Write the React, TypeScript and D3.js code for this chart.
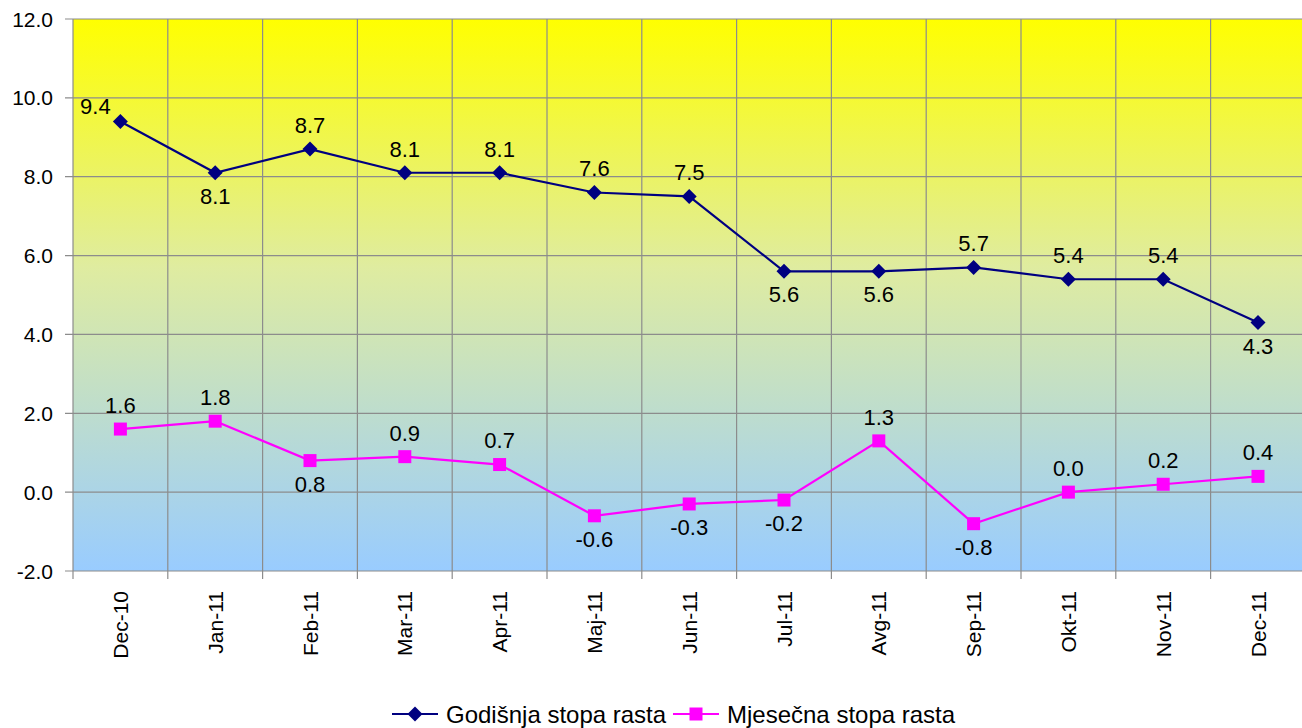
import * as d3 from "d3";
import { useEffect, useRef } from "react";

const categories = ["Dec-10", "Jan-11", "Feb-11", "Mar-11", "Apr-11", "Maj-11", "Jun-11", "Jul-11", "Avg-11", "Sep-11", "Okt-11", "Nov-11", "Dec-11"];
const annualRate = [9.4, 8.1, 8.7, 8.1, 8.1, 7.6, 7.5, 5.6, 5.6, 5.7, 5.4, 5.4, 4.3];
const monthlyRate = [1.6, 1.8, 0.8, 0.9, 0.7, -0.6, -0.3, -0.2, 1.3, -0.8, 0.0, 0.2, 0.4];
const annualLabelSide = ["left", "below", "above", "above", "above", "above", "above", "below", "below", "above", "above", "above", "below"];
const monthlyLabelSide = ["above", "above", "below", "above", "above", "below", "below", "below", "above", "below", "above", "above", "above"];
const yTicks = [-2, 0, 2, 4, 6, 8, 10, 12];
const seriesNames = ["Godišnja stopa rasta", "Mjesečna stopa rasta"];

const W = 1302;
const H = 728;
const FONT = "'Liberation Sans', Arial, sans-serif";

// diamond = square rotated 45deg, half-diagonal r
const diamond = (r: number) => `M0,${-r}L${r},0L0,${r}L${-r},0Z`;
const square = (h: number) => `M${-h},${-h}H${h}V${h}H${-h}Z`;

export default function App() {
	const ref = useRef<SVGSVGElement | null>(null);

	useEffect(() => {
		if (!ref.current) return;
		const svg = d3.select(ref.current);
		svg.selectAll("*").remove();

		const left = 73;
		const top = 19;
		const bottom = 571;
		const right = left + 13 * 94.8;

		const x = d3.scaleBand<string>().domain(categories).range([left, right]);
		const y = d3.scaleLinear().domain([-2, 12]).range([bottom, top]);
		const cx = (c: string) => (x(c) ?? 0) + x.bandwidth() / 2;
		const fmt = (v: number) => v.toFixed(1);

		const grad = svg
			.append("defs")
			.append("linearGradient")
			.attr("id", "bg")
			.attr("x1", 0)
			.attr("y1", 0)
			.attr("x2", 0)
			.attr("y2", 1);
		grad.append("stop").attr("offset", "0%").attr("stop-color", "#ffff00");
		grad.append("stop").attr("offset", "45%").attr("stop-color", "#dfeca0");
		grad.append("stop").attr("offset", "100%").attr("stop-color", "#99ccff");

		svg
			.append("rect")
			.attr("x", left)
			.attr("y", top)
			.attr("width", right - left)
			.attr("height", bottom - top)
			.attr("fill", "url(#bg)");

		const grid = svg.append("g").attr("stroke", "#8c8c8c").attr("stroke-width", 1.2);
		grid
			.selectAll("line.h")
			.data(yTicks)
			.join("line")
			.attr("class", "h")
			.attr("x1", left - 8)
			.attr("x2", right)
			.attr("y1", (d) => y(d))
			.attr("y2", (d) => y(d));
		grid
			.selectAll("line.v")
			.data(categories)
			.join("line")
			.attr("class", "v")
			.attr("x1", (d) => x(d) ?? 0)
			.attr("x2", (d) => x(d) ?? 0)
			.attr("y1", top)
			.attr("y2", bottom + 8);

		svg
			.append("g")
			.selectAll("text")
			.data(yTicks)
			.join("text")
			.attr("x", 53)
			.attr("y", (d) => y(d))
			.attr("dy", "0.36em")
			.attr("text-anchor", "end")
			.attr("font-family", FONT)
			.attr("font-size", 21)
			.text(fmt);

		svg
			.append("g")
			.selectAll("text")
			.data(categories)
			.join("text")
			.attr("transform", (d) => `translate(${cx(d)},591) rotate(-90)`)
			.attr("dy", "0.36em")
			.attr("text-anchor", "end")
			.attr("font-family", FONT)
			.attr("font-size", 21)
			.text((d) => d);

		const line = d3
			.line<number>()
			.x((_, i) => cx(categories[i]))
			.y((d) => y(d));

		const series = [
			{ values: annualRate, sides: annualLabelSide, color: "#000080", marker: diamond(7.5) },
			{ values: monthlyRate, sides: monthlyLabelSide, color: "#ff00ff", marker: square(6.5) },
		];

		series.forEach((s) => {
			svg
				.append("path")
				.attr("d", line(s.values))
				.attr("fill", "none")
				.attr("stroke", s.color)
				.attr("stroke-width", 2.2);
			svg
				.append("g")
				.selectAll("path")
				.data(s.values)
				.join("path")
				.attr("transform", (d, i) => `translate(${cx(categories[i])},${y(d)})`)
				.attr("d", s.marker)
				.attr("fill", s.color);
			svg
				.append("g")
				.selectAll("text")
				.data(s.values)
				.join("text")
				.attr("x", (d, i) => cx(categories[i]) + (s.sides[i] === "left" ? -25 : 0))
				.attr("y", (d, i) =>
					y(d) + (s.sides[i] === "below" ? 23 : s.sides[i] === "left" ? -15 : -24),
				)
				.attr("dy", "0.36em")
				.attr("text-anchor", "middle")
				.attr("font-family", FONT)
				.attr("font-size", 22)
				.text(fmt);
		});

		const legend = svg.append("g").attr("font-family", FONT).attr("font-size", 24);
		const legendX = [392, 673];
		series.forEach((s, i) => {
			const g = legend.append("g").attr("transform", `translate(${legendX[i]},714)`);
			g.append("line").attr("x1", 0).attr("x2", 46).attr("stroke", s.color).attr("stroke-width", 2.2);
			g.append("path").attr("transform", "translate(23,0)").attr("d", s.marker).attr("fill", s.color);
			g.append("text").attr("x", 54).attr("dy", "0.36em").text(seriesNames[i]);
		});
	}, []);

	return (
		<svg
			ref={ref}
			width={W}
			height={H}
			style={{ position: "absolute", left: 0, top: 0, display: "block" }}
		></svg>
	);
}
